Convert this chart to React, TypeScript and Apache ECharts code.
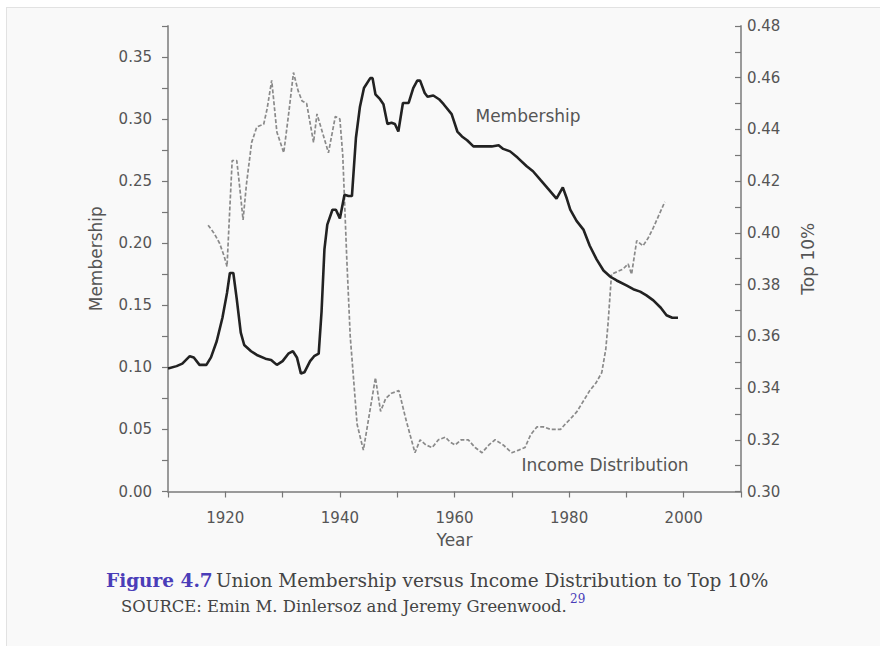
import React, { useEffect, useRef } from "react";
import * as echarts from "echarts";

// Union membership (left axis)
const memberYears = [
  1910.0, 1911.5, 1912.5, 1913.8, 1914.5, 1915.5, 1916.7, 1917.5, 1918.5, 1919.5,
  1920.3, 1920.8, 1921.4, 1922.0, 1922.7, 1923.3, 1924.5, 1925.5, 1927.0, 1928.0,
  1929.0, 1930.0, 1931.0, 1931.8, 1932.5, 1933.2, 1933.8, 1934.8, 1935.5, 1936.3,
  1936.8, 1937.3, 1937.8, 1938.7, 1939.3, 1940.0, 1940.8, 1941.5, 1942.1, 1942.8,
  1943.5, 1944.2, 1945.3, 1945.7, 1946.2, 1947.0, 1947.6, 1948.3, 1949.0, 1949.6,
  1950.2, 1951.0, 1952.0, 1952.8, 1953.5, 1954.0, 1954.8, 1955.3, 1956.3, 1957.3,
  1958.1, 1959.5, 1960.5, 1961.3, 1962.2, 1963.3, 1965.0, 1966.5, 1967.7, 1968.5,
  1969.7, 1971.0, 1972.6, 1973.7, 1975.0, 1976.5, 1977.8, 1978.9, 1979.6, 1980.2,
  1981.3, 1982.5, 1983.6, 1984.8, 1986.0, 1987.2, 1988.3, 1990.0, 1991.2, 1992.4,
  1993.5, 1994.7, 1996.0, 1997.0, 1998.0, 1999.0,
];
const memberValues = [
  0.099, 0.101, 0.103, 0.109, 0.108, 0.102, 0.102, 0.108, 0.121, 0.140,
  0.160, 0.176, 0.176, 0.155, 0.128, 0.118, 0.113, 0.110, 0.107, 0.106,
  0.102, 0.105, 0.111, 0.113, 0.108, 0.095, 0.096, 0.105, 0.109, 0.111,
  0.145, 0.195, 0.215, 0.227, 0.227, 0.220, 0.239, 0.238, 0.238, 0.285,
  0.310, 0.325, 0.333, 0.333, 0.320, 0.316, 0.312, 0.296, 0.297, 0.296,
  0.290, 0.313, 0.313, 0.325, 0.331, 0.331, 0.321, 0.318, 0.319, 0.316,
  0.312, 0.304, 0.290, 0.286, 0.283, 0.278, 0.278, 0.278, 0.279, 0.276,
  0.274, 0.269, 0.262, 0.258, 0.251, 0.243, 0.236, 0.245, 0.236, 0.227,
  0.218, 0.211, 0.198, 0.187, 0.178, 0.173, 0.170, 0.166, 0.163, 0.161,
  0.158, 0.154, 0.148, 0.142, 0.140, 0.140,
];

// Income share of top 10% (right axis)
const incomeYears = [
  1917.0, 1918.0, 1919.0, 1919.8, 1920.3, 1920.8, 1921.2, 1922.0, 1922.5, 1923.1,
  1923.7, 1924.6, 1925.5, 1926.7, 1927.3, 1928.1, 1929.0, 1930.2, 1931.0, 1931.9,
  1932.7, 1933.4, 1934.2, 1935.4, 1936.0, 1936.8, 1938.0, 1939.2, 1940.0, 1940.5,
  1941.2, 1941.8, 1942.3, 1943.0, 1944.1, 1945.0, 1946.2, 1947.1, 1948.0, 1949.0,
  1950.3, 1951.5, 1953.1, 1954.0, 1955.0, 1956.1, 1957.2, 1958.4, 1959.3, 1960.1,
  1961.2, 1962.4, 1963.6, 1964.8, 1966.0, 1967.1, 1968.5, 1970.0, 1971.2, 1972.3,
  1973.3, 1974.4, 1975.5, 1976.8, 1978.5, 1979.3, 1980.2, 1981.4, 1982.5, 1983.6,
  1984.7, 1985.7, 1986.4, 1986.8, 1987.4, 1988.4, 1989.4, 1990.3, 1990.9, 1991.8,
  1992.9, 1993.8, 1994.7, 1995.7, 1996.7,
];
const incomeValues = [
  0.403, 0.400, 0.396, 0.391, 0.387, 0.410, 0.428, 0.428, 0.418, 0.405,
  0.419, 0.435, 0.441, 0.442, 0.448, 0.459, 0.439, 0.431, 0.445, 0.462,
  0.455, 0.451, 0.450, 0.435, 0.446, 0.440, 0.431, 0.445, 0.444, 0.430,
  0.390, 0.360, 0.346, 0.326, 0.316, 0.328, 0.344, 0.331, 0.336, 0.338,
  0.339, 0.328, 0.315, 0.320, 0.318, 0.317, 0.320, 0.321, 0.319, 0.318,
  0.320, 0.320, 0.317, 0.315, 0.318, 0.320, 0.318, 0.315, 0.316, 0.317,
  0.322, 0.325, 0.325, 0.324, 0.324, 0.326, 0.328, 0.331, 0.335, 0.339,
  0.342, 0.346, 0.355, 0.365, 0.384, 0.385, 0.386, 0.388, 0.384, 0.397,
  0.395, 0.398, 0.402, 0.407, 0.412,
];

const xLabelYears = [1920, 1940, 1960, 1980, 2000];

const SANS = "DejaVu Sans";
const SERIF = "DejaVu Serif";
const TXT = "#555";
const AXIS = "#9a9a9a";

export default function App() {
  const ref = useRef<HTMLDivElement>(null);

  useEffect(() => {
    if (!ref.current) return;
    const chart = echarts.init(ref.current, undefined, { renderer: "svg" });
    const axisCommon = {
      axisLine: { show: true, lineStyle: { color: AXIS, width: 2 } },
      axisTick: { show: true, length: 6, lineStyle: { color: "#777", width: 1.2 } },
      splitLine: { show: false },
      nameTextStyle: { color: TXT, fontFamily: SANS, fontSize: 17 },
    };
    chart.setOption({
      animation: false,
      backgroundColor: "transparent",
      grid: { left: 168, right: 139, top: 26, bottom: 154.5 },
      xAxis: {
        type: "value",
        min: 1910,
        max: 2010,
        interval: 10,
        name: "Year",
        nameLocation: "middle",
        nameGap: 40,
        ...axisCommon,
        axisLabel: {
          color: TXT,
          fontFamily: SANS,
          fontSize: 15,
          margin: 19,
          formatter: (v: number) => (xLabelYears.indexOf(Math.round(v)) >= 0 ? String(Math.round(v)) : ""),
        },
      },
      yAxis: [
        {
          type: "value",
          position: "left",
          min: 0,
          max: 0.375,
          interval: 0.025,
          name: "Membership",
          nameLocation: "middle",
          nameGap: 64,
          ...axisCommon,
          axisLabel: {
            color: TXT,
            fontFamily: SANS,
            fontSize: 15,
            margin: 16,
            formatter: (v: number) => (Math.round(v * 1000) % 50 === 0 ? v.toFixed(2) : ""),
          },
        },
        {
          type: "value",
          position: "right",
          min: 0.3,
          max: 0.48,
          interval: 0.01,
          name: "Top 10%",
          nameLocation: "middle",
          nameGap: 58,
          ...axisCommon,
          axisTick: { show: true, inside: true, length: 6, lineStyle: { color: "#777", width: 1.2 } },
          axisLabel: {
            color: TXT,
            fontFamily: SANS,
            fontSize: 15,
            margin: 6,
            formatter: (v: number) => (Math.round(v * 100) % 2 === 0 ? v.toFixed(2) : ""),
          },
        },
      ],
      series: [
        {
          type: "line",
          name: "Membership",
          yAxisIndex: 0,
          data: memberYears.map((y, i) => [y, memberValues[i]]),
          showSymbol: false,
          lineStyle: { color: "#222", width: 2.6 },
          z: 3,
        },
        {
          type: "line",
          name: "Income Distribution",
          yAxisIndex: 1,
          data: incomeYears.map((y, i) => [y, incomeValues[i]]),
          showSymbol: false,
          lineStyle: { color: "#8a8a8a", width: 1.7, type: [4, 2] },
          z: 2,
        },
      ],
      graphic: [
        {
          type: "text",
          x: 528,
          y: 116,
          style: { text: "Membership", fill: TXT, font: `17px "${SANS}"`, textAlign: "center", textVerticalAlign: "middle" },
        },
        {
          type: "text",
          x: 605,
          y: 465,
          style: { text: "Income Distribution", fill: TXT, font: `17px "${SANS}"`, textAlign: "center", textVerticalAlign: "middle" },
        },
        {
          type: "text",
          x: 106,
          y: 580,
          style: {
            text: "{f|Figure 4.7} {c|Union Membership versus Income Distribution to Top 10%}",
            textVerticalAlign: "middle",
            rich: {
              f: { fontFamily: SERIF, fontSize: 18.5, fontWeight: "bold", fill: "#4a3db8", color: "#4a3db8" },
              c: { fontFamily: SERIF, fontSize: 18.5, fill: "#444", color: "#444" },
            },
          },
        },
        {
          type: "text",
          x: 121,
          y: 606,
          style: {
            text: "SOURCE: Emin M. Dinlersoz and Jeremy Greenwood.",
            fill: "#444",
            font: `16.4px "${SERIF}"`,
            textVerticalAlign: "middle",
          },
        },
        {
          type: "text",
          x: 570,
          y: 599,
          style: { text: "29", fill: "#4a3db8", font: `12px "${SERIF}"`, textVerticalAlign: "middle" },
        },
      ],
    });
    return () => chart.dispose();
  }, []);

  return (
    <div style={{ position: "absolute", left: 0, top: 0, width: 880, height: 646, background: "#fff", overflow: "hidden" }}>
      <div
        style={{
          position: "absolute",
          left: 6,
          top: 7,
          width: 900,
          height: 700,
          background: "#f9f9f9",
          borderLeft: "1px solid #e2e2e2",
          borderTop: "1px solid #e2e2e2",
        }}
      />
      <div ref={ref} style={{ position: "absolute", left: 0, top: 0, width: 880, height: 646 }} />
    </div>
  );
}
